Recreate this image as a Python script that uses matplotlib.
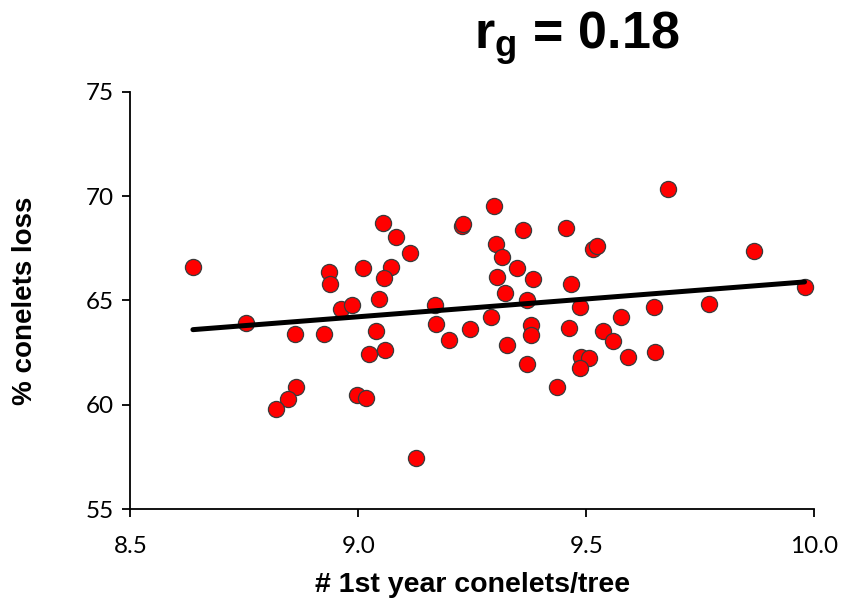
import numpy as np
import matplotlib
matplotlib.use("Agg")
import matplotlib.pyplot as plt

# 1st year conelets per tree vs % conelets loss
conelets = [8.637, 8.754, 8.860, 8.925, 8.936, 8.937, 9.011, 8.962, 8.986, 8.863,
            8.846, 8.820, 8.998, 9.017, 9.024,
            9.053, 9.083, 9.114, 9.071, 9.057, 9.045, 9.038, 9.058, 9.127, 9.168,
            9.170, 9.198, 9.244, 9.228, 9.229, 9.290, 9.298, 9.301, 9.316, 9.305,
            9.321, 9.326, 9.349, 9.362, 9.384, 9.369, 9.378, 9.379, 9.369, 9.436,
            9.456, 9.466, 9.487, 9.462, 9.515, 9.523, 9.488, 9.505, 9.487, 9.536,
            9.558,
            9.680, 9.869, 9.979, 9.770, 9.648, 9.576, 9.591, 9.650]
loss = [66.59, 63.91, 63.40, 63.40, 66.38, 65.79, 66.54, 64.59, 64.80, 60.84,
        60.27, 59.82, 60.46, 60.33, 62.42,
        68.73, 68.04, 67.27, 66.59, 66.09, 65.09, 63.52, 62.63, 57.46, 64.80,
        63.86, 63.12, 63.64, 68.57, 68.68, 64.22, 69.53, 67.71, 67.10, 66.11,
        65.37, 62.85, 66.54, 68.38, 66.04, 65.01, 63.83, 63.35, 61.96, 60.84,
        68.49, 65.80, 64.67, 63.70, 67.48, 67.62, 62.28, 62.23, 61.75, 63.52,
        63.06,
        70.33, 67.37, 65.63, 64.82, 64.69, 64.20, 62.31, 62.52]

x_ticks = [8.5, 9.0, 9.5, 10.0]
y_ticks = [55, 60, 65, 70, 75]
title = "r$_\\mathbf{g}$ = 0.18"

plt.rcParams['font.family'] = ['Lato', 'DejaVu Sans']
plt.rcParams['mathtext.fontset'] = 'custom'
plt.rcParams['mathtext.bf'] = 'Liberation Sans:bold'
plt.rcParams['mathtext.rm'] = 'Liberation Sans:bold'

fig = plt.figure(figsize=(8.44, 6.13), dpi=100)
ax = fig.add_axes([0.1546, 0.1692, 0.81, 0.6812])

x = np.array(conelets)
y = np.array(loss)
ax.scatter(x, y, s=135, c='#ff0000', edgecolors='#3a3a3a', linewidths=0.9, zorder=2)

# linear trend line
k, b = np.polyfit(x, y, 1)
xs = np.array([x.min(), x.max()])
ax.plot(xs, k * xs + b, color='black', lw=3.6, solid_capstyle='round', zorder=3)

ax.set_xlim(8.5, 10.0)
ax.set_ylim(55, 75)
ax.set_xticks(x_ticks)
ax.set_xticklabels(["%.1f" % t for t in x_ticks])
ax.set_yticks(y_ticks)
ax.spines['top'].set_visible(False)
ax.spines['right'].set_visible(False)
for s in ['left', 'bottom']:
    ax.spines[s].set_linewidth(1.3)
ax.tick_params(axis='both', direction='out', length=6, width=1.3, labelsize=17.5,
               colors='black')
ax.tick_params(axis='x', pad=13)
ax.tick_params(axis='y', pad=6)

ax.set_xlabel("# 1st year conelets/tree", family='Liberation Sans', weight='bold',
              fontsize=20.5, labelpad=11)
ax.set_ylabel("% conelets loss", family='Liberation Sans', weight='bold',
              fontsize=20, labelpad=34)

fig.text(0.684, 0.921, title, family='Liberation Sans', weight='bold',
         fontsize=37.5, ha='center', va='baseline')

fig.savefig("out.png", dpi=100)
